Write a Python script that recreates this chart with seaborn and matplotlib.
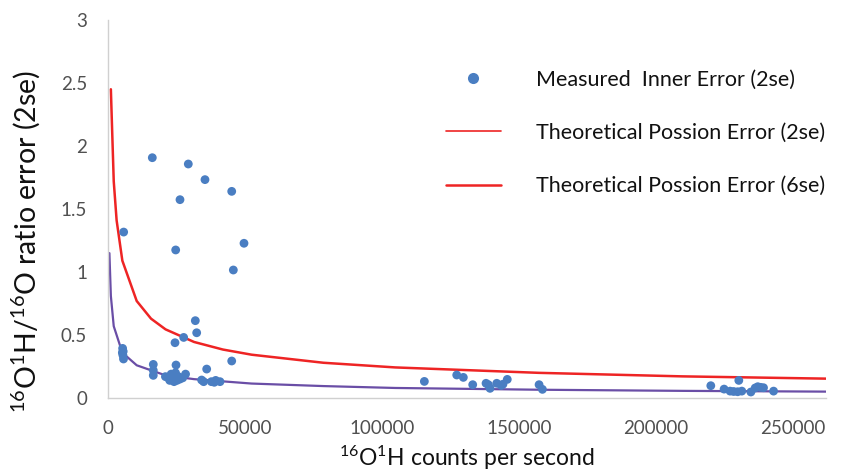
import matplotlib
matplotlib.use("Agg")
import matplotlib.pyplot as plt
import seaborn as sns
import pandas as pd
from matplotlib.lines import Line2D

# Measured inner error (2se)
meas_x = [16170, 29300, 35390, 45140, 26270, 5720, 49620, 24700, 45730,
          31860, 32360, 27610, 24450, 45140, 36010,
          5340, 5550, 5450, 5660, 5240,
          16530, 16530, 16530, 24820,
          20960, 22010, 23060, 23580, 24630, 25150, 25680, 26200, 27250, 28300, 22530, 24100,
          34160, 34900, 37730, 38780, 39300, 40870,
          115420, 127230, 129640, 133060, 137920, 138760, 139380, 141830, 143470, 144100,
          145670, 157270, 158490,
          219920, 224770, 226960, 228250, 229720, 231230, 230140, 234540, 236110, 237060,
          238100, 239150, 242820]
meas_y = [1.907, 1.857, 1.733, 1.640, 1.574, 1.317, 1.228, 1.175, 1.016,
          0.614, 0.518, 0.481, 0.439, 0.294, 0.230,
          0.394, 0.370, 0.340, 0.310, 0.360,
          0.267, 0.220, 0.180, 0.262,
          0.170, 0.160, 0.190, 0.150, 0.200, 0.140, 0.170, 0.150, 0.160, 0.190, 0.140, 0.130,
          0.143, 0.130, 0.130, 0.125, 0.140, 0.130,
          0.132, 0.183, 0.164, 0.106, 0.117, 0.106, 0.077, 0.117, 0.100, 0.110,
          0.148, 0.106, 0.069,
          0.098, 0.071, 0.055, 0.052, 0.050, 0.055, 0.140, 0.048, 0.080, 0.090,
          0.085, 0.082, 0.055]

# Theoretical Poisson error (6se) - red
red_x = [1050, 2100, 3150, 5240, 10480, 15700, 21000, 31400, 41900, 52400,
         78600, 104800, 157200, 209600, 262000]
red_y = [2.45, 1.72, 1.41, 1.09, 0.77, 0.63, 0.545, 0.445, 0.385, 0.344,
         0.28, 0.243, 0.20, 0.172, 0.154]

# Theoretical Poisson error (2se) - purple
pur_x = [520, 1050, 2100, 5240, 10480, 21000, 31400, 52400, 78600, 104800,
         157200, 209600, 262000]
pur_y = [1.15, 0.81, 0.57, 0.36, 0.26, 0.18, 0.15, 0.115, 0.095, 0.08,
         0.066, 0.057, 0.051]

x_ticks = [0, 50000, 100000, 150000, 200000, 250000]
y_ticks = [0, 0.5, 1, 1.5, 2, 2.5, 3]
y_tick_labels = ["0", "0.5", "1", "1.5", "2", "2.5", "3"]

legend_labels = ["Measured  Inner Error (2se)",
                 "Theoretical Possion Error (2se)",
                 "Theoretical Possion Error (6se)"]

sns.set_style("white")
plt.rcParams["font.family"] = ["Lato", "DejaVu Sans"]
plt.rcParams["mathtext.default"] = "regular"

BLUE = "#4a7ec2"
RED = "#ee2424"
PURPLE = "#6a4ea6"

fig = plt.figure(figsize=(8.57, 4.75), dpi=100)
ax = fig.add_axes([0.126, 0.162, 0.838, 0.796])

df_m = pd.DataFrame({"x": meas_x, "y": meas_y})
df_r = pd.DataFrame({"x": red_x, "y": red_y})
df_p = pd.DataFrame({"x": pur_x, "y": pur_y})

sns.lineplot(data=df_p, x="x", y="y", ax=ax, color=PURPLE, linewidth=1.6,
             estimator=None, sort=False)
sns.lineplot(data=df_r, x="x", y="y", ax=ax, color=RED, linewidth=1.8,
             estimator=None, sort=False)
sns.scatterplot(data=df_m, x="x", y="y", ax=ax, color=BLUE, s=40,
                edgecolor="none", zorder=3)

ax.set_xlim(0, 262000)
ax.set_ylim(0, 3)
ax.set_xticks(x_ticks)
ax.set_xticklabels([str(v) for v in x_ticks])
ax.set_yticks(y_ticks)
ax.set_yticklabels(y_tick_labels)
ax.tick_params(axis="both", length=0, labelsize=13.5, colors="#505050")
ax.tick_params(axis="x", pad=16)
ax.tick_params(axis="y", pad=15)

for s in ["top", "right"]:
    ax.spines[s].set_visible(False)
for s in ["left", "bottom"]:
    ax.spines[s].set_color("#d0d0d0")
    ax.spines[s].set_linewidth(1.0)

ax.set_xlabel("$^{16}$O$^{1}$H counts per second", fontsize=16.5, color="#111111")
ax.xaxis.set_label_coords(0.5, -0.12)
ax.set_ylabel("$^{16}$O$^{1}$H/$^{16}$O ratio error (2se)", fontsize=20.5, color="#111111")
ax.yaxis.set_label_coords(-0.092, 0.413)

handles = [
    Line2D([], [], linestyle="none", marker="o", markersize=8, color=BLUE, markeredgecolor="none"),
    Line2D([], [], color=RED, linewidth=1.2),
    Line2D([], [], color=RED, linewidth=1.8),
]
leg = ax.legend(handles, legend_labels, loc="upper left", bbox_to_anchor=(0.443, 0.92),
                frameon=False, fontsize=15.5, handlelength=2.6, handletextpad=1.6,
                labelspacing=1.55)
for t in leg.get_texts():
    t.set_color("#111111")

fig.savefig("out.png", dpi=100)
